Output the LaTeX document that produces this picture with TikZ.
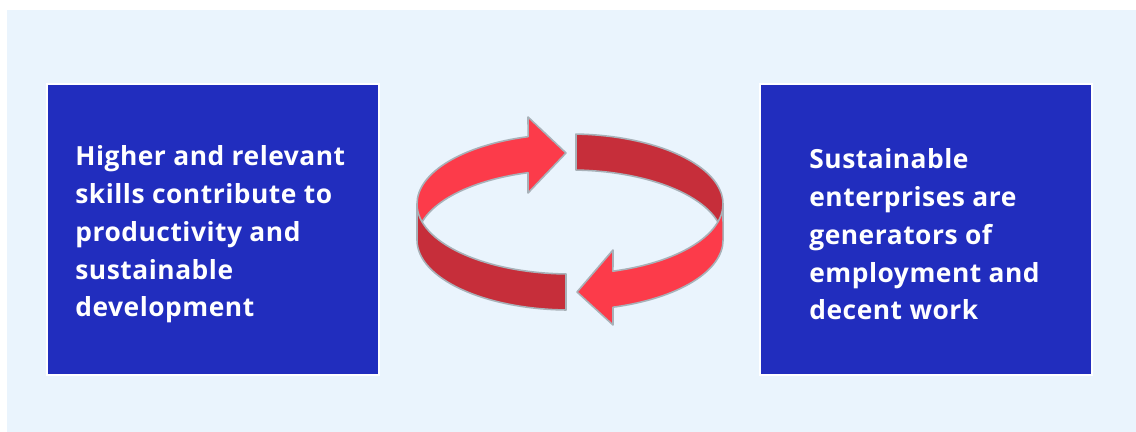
\documentclass[tikz,border=0pt]{standalone}
\usepackage{fontspec}
\setmainfont{Open Sans}[LetterSpace=2]
\usepackage{tikz}

\definecolor{pagebg}{RGB}{234,244,253}
\definecolor{boxblue}{RGB}{33,45,190}
\definecolor{arrowlight}{RGB}{252,59,74}
\definecolor{arrowdark}{RGB}{198,46,58}
\definecolor{arrowedge}{RGB}{168,177,184}

\begin{document}
\begin{tikzpicture}[
	box/.style={draw=white, line width=1.1pt, fill=boxblue,
		minimum width=6.64cm, minimum height=5.82cm},
	boxtext/.style={text=white, inner sep=0pt, align=left, anchor=west,
		font=\fontsize{15}{21.5}\selectfont\bfseries},
	litpart/.style={fill=arrowlight, draw=arrowedge, line width=0.9pt, line join=round},
	darkpart/.style={fill=arrowdark, draw=arrowedge, line width=0.9pt, line join=round}]
		\useasboundingbox (0,0) rectangle (22.72,8.64);
		\fill[pagebg] (0.14,0) rectangle (22.72,8.44);
		% the two boxes
		\node[box] (skills) at (4.26,4.05) {};
		\node[box] (enterprises) at (18.52,4.05) {};
		\node[boxtext] (skillstext) at ([xshift=0.58cm, yshift=-0.1cm]skills.west)
		{Higher and relevant\\ skills contribute to\\ productivity and\\ sustainable\\ development};
		\node[boxtext] (enterprisestext) at ([xshift=1cm, yshift=-0.1cm]enterprises.west)
		{Sustainable\\ enterprises are\\ generators of\\ employment and\\ decent work};
		% back half of the ring
		\filldraw[litpart] (8.34,4.56) arc[start angle=180, end angle=105.9, x radius=3.06, y radius=1.4]
		-- (10.56,6.3) -- (11.32,5.58) -- (10.56,4.78) -- (10.56,5.186)
		arc[start angle=105.9, end angle=180, x radius=3.06, y radius=1.4] -- cycle;
		\filldraw[darkpart] (11.52,5.959) arc[start angle=87.75, end angle=0, x radius=3.06, y radius=1.4]
		-- (14.46,3.84) arc[start angle=0, end angle=87.75, x radius=3.06, y radius=1.4] -- cycle;
		% front half of the ring
		\filldraw[darkpart] (8.34,4.56) arc[start angle=180, end angle=268.5, x radius=3.06, y radius=1.4]
		-- (11.32,2.44) arc[start angle=268.5, end angle=180, x radius=3.06, y radius=1.4] -- cycle;
		\filldraw[litpart] (14.46,4.56) arc[start angle=360, end angle=286.3, x radius=3.06, y radius=1.4]
		-- (12.26,3.64) -- (11.54,2.8) -- (12.26,2.14) -- (12.26,2.496)
		arc[start angle=286.3, end angle=360, x radius=3.06, y radius=1.4] -- cycle;
\end{tikzpicture}
\end{document}
